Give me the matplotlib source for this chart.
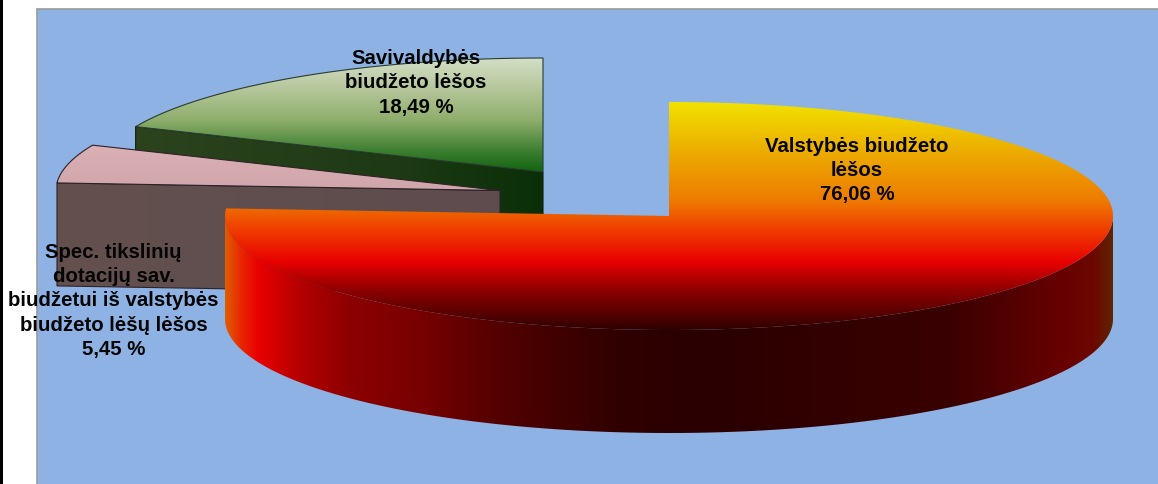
from matplotlib import pyplot as plt
from matplotlib.colors import LinearSegmentedColormap
from matplotlib.patches import Polygon, Rectangle
import numpy as np

# shares going clockwise from 12 o'clock
shares = [76.06, 5.45, 18.49]
labels = [
    "Valstybės biudžeto\nlėšos\n76,06 %",
    "Spec. tikslinių\ndotacijų sav.\nbiudžetui iš valstybės\nbiudžeto lėšų lėšos\n5,45 %",
    "Savivaldybės\nbiudžeto lėšos\n18,49 %",
]

W, H = 1158, 484
RX, RY, DEPTH = 444, 114, 103
# exploded centre of each slice, in pixels
centres = [(669, 216), (500, 190.5), (543, 172)]
label_pos = [(857, 170.5), (113.5, 301), (416, 83)]

PANEL = "#8db2e3"


def ramp(stops):
    lo, hi = stops[0][0], stops[-1][0]
    return LinearSegmentedColormap.from_list(
        "", [((p - lo) / (hi - lo), c) for p, c in stops], N=512), lo, hi


def fill(ax, pts, stops, horizontal=False, edge=None):
    # gradient image clipped to the polygon
    cmap, lo, hi = ramp(stops)
    grad = np.linspace(0, 1, 512)
    if horizontal:
        im = ax.imshow(grad[None, :], cmap=cmap, extent=(lo, hi, H, 0), aspect="auto",
                       interpolation="bilinear", zorder=ax.zo)
    else:
        im = ax.imshow(grad[:, None], cmap=cmap, extent=(0, W, hi, lo), aspect="auto",
                       interpolation="bilinear", zorder=ax.zo)
    clip = Polygon(pts, closed=True, transform=ax.transData, fc="none", ec="none")
    ax.add_patch(clip)
    im.set_clip_path(clip)
    if edge:
        ax.add_patch(Polygon(pts, closed=True, fc="none", ec=edge, lw=0.8, zorder=ax.zo + 0.5))
    ax.zo += 1


def arc(c, a0, a1, dy=0):
    a = np.radians(np.linspace(a0, a1, 300))
    return np.column_stack([c[0] + RX * np.sin(a), c[1] - RY * np.cos(a) + dy])


fig = plt.figure(figsize=(W / 100, H / 100), dpi=100, facecolor="white")
ax = fig.add_axes([0, 0, 1, 1])
ax.zo = 3
ax.add_patch(Rectangle((0, 0), 2.5, H, fc="black", ec="none"))
ax.add_patch(Rectangle((37, 9), W, H, fc=PANEL, ec="#9a9a9a", lw=1.2))

ends = np.cumsum(shares) * 3.6
starts = np.concatenate([[0], ends[:-1]])

# green slice (furthest back)
c = centres[2]
top = np.vstack([[c], arc(c, starts[2], ends[2])])
p0 = arc(c, starts[2], starts[2])[0]
fill(ax, [p0, c, (c[0], c[1] + DEPTH), (p0[0], p0[1] + DEPTH)],
     [(135, "#2c431e"), (400, "#1d3a14"), (543, "#0a2f08")], horizontal=True, edge="#10200c")
fill(ax, top, [(58, "#d3dfc6"), (85, "#b9c9a0"), (120, "#8fae6c"), (150, "#3f8032"), (172, "#10640f")],
     edge="#2a3c30")

# pink slice
c = centres[1]
top = np.vstack([[c], arc(c, starts[1], ends[1])])
p0 = arc(c, starts[1], starts[1])[0]
fill(ax, [p0, c, (c[0], c[1] + DEPTH), (p0[0], p0[1] + DEPTH)],
     [(57, "#63504f"), (500, "#5e4c4e")], horizontal=True, edge="#2c2228")
fill(ax, top, [(145, "#dcb0b4"), (190, "#cfa6ab")], edge="#2c2228")

# red slice, outer wall then top
c = centres[0]
a_left = 270
wall = np.vstack([arc(c, 90, a_left), arc(c, 90, a_left, DEPTH)[::-1]])
fill(ax, wall, [(225, "#e05c00"), (240, "#e82800"), (257, "#ea0000"), (300, "#b40000"), (350, "#8c0000"),
                (420, "#780000"), (487, "#580000"), (553, "#420000"), (620, "#300000"),
                (700, "#2a0000"), (950, "#3a0000"), (1060, "#660000"),
                (1095, "#6c0800"), (1113, "#5e2400")], horizontal=True)
top = np.vstack([[c], arc(c, starts[0], ends[0])])
fill(ax, top, [(102, "#f2e200"), (150, "#ecae00"), (200, "#ee7c00"), (230, "#f03c00"), (262, "#e80000"),
               (290, "#8f0000"), (320, "#480000"), (330, "#2e0000")])

for txt, (x, y) in zip(labels, label_pos):
    ax.text(x, y, txt, ha="center", va="center", fontsize=14.7, fontweight="bold",
            family="Liberation Sans", color="#050505", linespacing=1.355, zorder=50)

ax.set_xlim(0, W)
ax.set_ylim(H, 0)
ax.axis("off")
fig.savefig("out.png", dpi=100, facecolor="white")
